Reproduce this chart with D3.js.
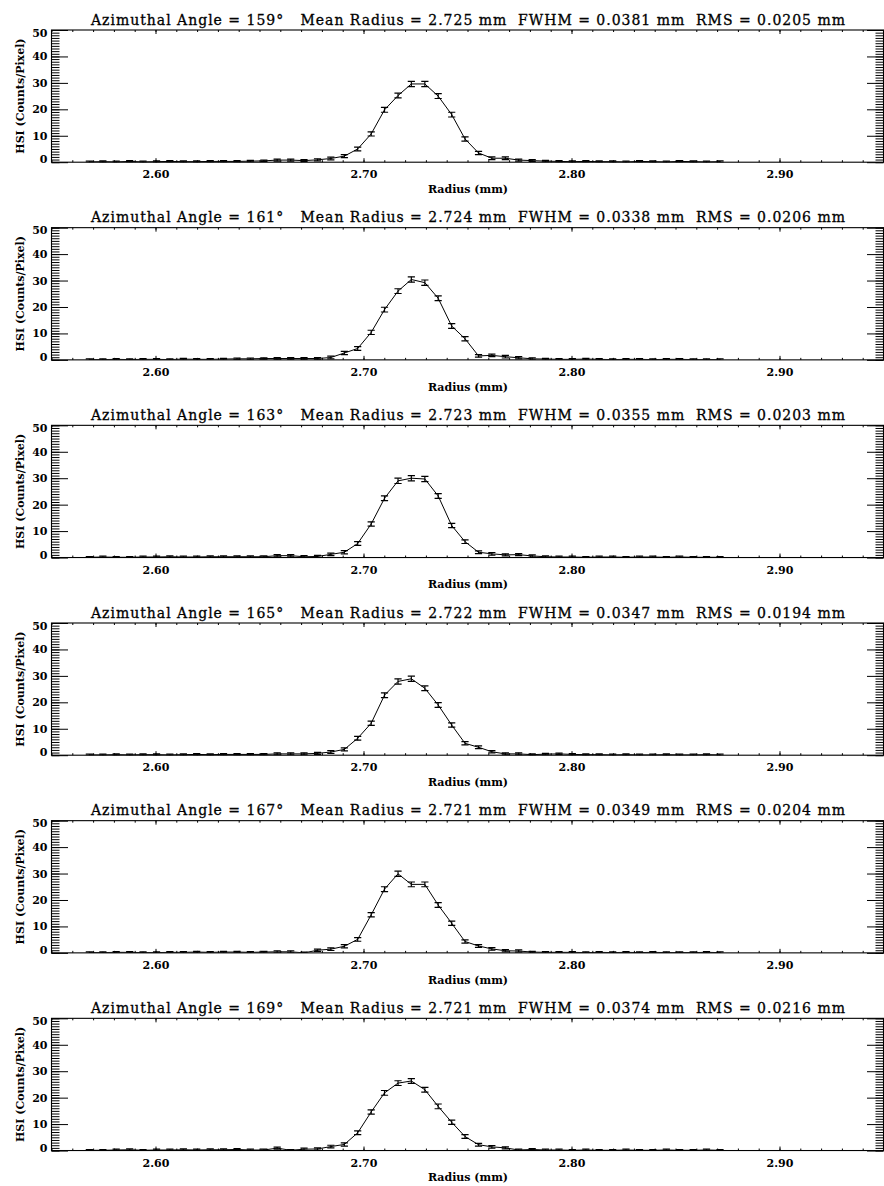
<!DOCTYPE html>
<html><head><meta charset="utf-8">
<script src="https://cdn.jsdelivr.net/npm/d3@7"></script>
<style>
html,body{margin:0;padding:0;background:#fff;}
svg{display:block;}
text{font-family:"DejaVu Serif",serif;fill:#000;}
</style></head><body>
<svg id="chart" width="884" height="1186"></svg>
<script>
// ---- data ----
const radius = [2.5682,2.5747,2.5811,2.5876,2.5940,2.6005,2.6069,2.6134,2.6198,2.6263,2.6327,2.6392,
  2.6456,2.6521,2.6585,2.6650,2.6714,2.6779,2.6843,2.6908,2.6972,2.7037,2.7101,2.7166,
  2.7230,2.7295,2.7359,2.7424,2.7488,2.7553,2.7617,2.7682,2.7746,2.7811,2.7875,2.7940,
  2.8004,2.8069,2.8133,2.8198,2.8262,2.8327,2.8391,2.8456,2.8520,2.8585,2.8649,2.8714];
const angles = [159,161,163,165,167,169];
const meanRadius = ["2.725","2.724","2.723","2.722","2.721","2.721"];
const fwhm = ["0.0381","0.0338","0.0355","0.0347","0.0349","0.0374"];
const rms = ["0.0205","0.0206","0.0203","0.0194","0.0204","0.0216"];

const hsi159 = [0.1,0.2,0.1,0.3,0.1,0.2,0.3,0.2,0.2,0.3,0.3,0.3,
  0.4,0.5,0.8,0.8,0.6,0.9,1.4,2.3,5.0,10.7,19.8,25.2,
  29.6,29.6,25.0,18.0,8.8,3.5,1.5,1.5,0.8,0.6,0.4,0.3,
  0.2,0.3,0.2,0.2,0.1,0.3,0.2,0.1,0.3,0.2,0.1,0.2];
const hsi161 = [0.1,0.1,0.2,0.1,0.2,0.2,0.1,0.3,0.2,0.2,0.3,0.4,
  0.4,0.5,0.5,0.5,0.5,0.5,0.9,2.6,4.3,10.4,19.0,26.0,
  30.4,29.2,23.3,12.8,8.0,1.5,1.7,1.2,0.8,0.4,0.3,0.2,
  0.2,0.3,0.2,0.1,0.2,0.2,0.1,0.2,0.2,0.1,0.1,0.1];
const hsi163 = [0.1,0.2,0.1,0.1,0.2,0.2,0.3,0.2,0.2,0.3,0.3,0.3,
  0.3,0.3,0.7,0.7,0.3,0.4,1.2,2.0,5.3,12.7,22.4,29.0,
  30.0,29.7,23.3,12.1,6.0,2.0,1.4,1.0,1.1,0.6,0.3,0.2,
  0.2,0.1,0.2,0.2,0.1,0.2,0.2,0.1,0.2,0.1,0.1,0.1];
const hsi165 = [0.1,0.1,0.2,0.1,0.2,0.2,0.1,0.2,0.3,0.2,0.3,0.3,
  0.3,0.3,0.5,0.5,0.5,0.7,1.2,2.2,6.4,12.1,22.7,27.9,
  28.9,25.3,19.0,11.4,4.5,3.0,1.3,0.5,0.5,0.2,0.4,0.5,
  0.3,0.2,0.2,0.1,0.2,0.1,0.1,0.2,0.1,0.1,0.2,0.1];
const hsi167 = [0.1,0.1,0.2,0.2,0.1,0.1,0.2,0.2,0.3,0.2,0.3,0.3,
  0.2,0.3,0.4,0.4,0.0,1.0,1.4,2.5,5.1,14.4,24.1,29.9,
  25.9,25.9,18.1,11.2,4.3,2.6,1.5,0.8,0.7,0.3,0.2,0.2,
  0.2,0.1,0.2,0.1,0.2,0.1,0.2,0.1,0.1,0.1,0.2,0.1];
const hsi169 = [0.1,0.1,0.2,0.3,0.1,0.2,0.2,0.3,0.2,0.3,0.3,0.4,
  0.2,0.2,0.9,0.1,0.5,0.6,1.5,2.3,6.7,14.6,21.8,25.5,
  26.3,23.0,16.7,10.7,5.3,2.2,1.4,1.0,0.2,0.4,0.2,0.2,
  0.1,0.2,0.1,0.1,0.2,0.1,0.1,0.2,0.1,0.1,0.2,0.1];

const err159 = [0.3,0.3,0.3,0.3,0.3,0.3,0.3,0.3,0.3,0.3,0.3,0.3,
  0.3,0.3,0.4,0.4,0.4,0.4,0.5,0.6,0.7,0.8,0.9,0.9,
  1.0,1.0,0.9,0.9,0.8,0.6,0.5,0.5,0.4,0.4,0.3,0.3,
  0.3,0.3,0.3,0.3,0.3,0.3,0.3,0.3,0.3,0.3,0.3,0.3];
const err161 = [0.3,0.3,0.3,0.3,0.3,0.3,0.3,0.3,0.3,0.3,0.3,0.3,
  0.3,0.3,0.4,0.4,0.4,0.4,0.5,0.6,0.7,0.8,0.9,0.9,
  1.0,1.0,0.9,0.9,0.8,0.5,0.5,0.5,0.4,0.4,0.3,0.3,
  0.3,0.3,0.3,0.3,0.3,0.3,0.3,0.3,0.3,0.3,0.3,0.3];
const err163 = [0.3,0.3,0.3,0.3,0.3,0.3,0.3,0.3,0.3,0.3,0.3,0.3,
  0.3,0.3,0.4,0.4,0.4,0.4,0.5,0.6,0.7,0.8,0.9,1.0,
  1.0,1.0,0.9,0.8,0.7,0.5,0.5,0.4,0.4,0.4,0.3,0.3,
  0.3,0.3,0.3,0.3,0.3,0.3,0.3,0.3,0.3,0.3,0.3,0.3];
const err165 = [0.3,0.3,0.3,0.3,0.3,0.3,0.3,0.3,0.3,0.3,0.3,0.3,
  0.3,0.3,0.4,0.4,0.4,0.4,0.5,0.6,0.7,0.8,0.9,1.0,
  1.0,0.9,0.9,0.8,0.6,0.5,0.4,0.4,0.4,0.3,0.3,0.3,
  0.3,0.3,0.3,0.3,0.3,0.3,0.3,0.3,0.3,0.3,0.3,0.3];
const err167 = [0.3,0.3,0.3,0.3,0.3,0.3,0.3,0.3,0.3,0.3,0.3,0.3,
  0.3,0.3,0.4,0.4,0.3,0.4,0.5,0.6,0.7,0.8,0.9,1.0,
  0.9,0.9,0.9,0.8,0.6,0.5,0.5,0.4,0.4,0.3,0.3,0.3,
  0.3,0.3,0.3,0.3,0.3,0.3,0.3,0.3,0.3,0.3,0.3,0.3];
const err169 = [0.3,0.3,0.3,0.3,0.3,0.3,0.3,0.3,0.3,0.3,0.3,0.3,
  0.3,0.3,0.4,0.3,0.4,0.4,0.5,0.6,0.7,0.8,0.9,0.9,
  0.9,0.9,0.9,0.8,0.7,0.5,0.5,0.4,0.3,0.3,0.3,0.3,
  0.3,0.3,0.3,0.3,0.3,0.3,0.3,0.3,0.3,0.3,0.3,0.3];

const series = [hsi159, hsi161, hsi163, hsi165, hsi167, hsi169];
const errors = [err159, err161, err163, err165, err167, err169];
const xTickLabels = [2.60, 2.70, 2.80, 2.90];
const yTickLabels = [0, 10, 20, 30, 40, 50];

// ---- layout ----
const W = 884, H = 1186, panelH = H / 6;
const L = 51.5, R = 883.5, T = 30, B = 162.2;
const x = d3.scaleLinear().domain([2.55, 2.95]).range([L, R]);
const y = d3.scaleLinear().domain([0, 50]).range([B, T]);

const svg = d3.select("#chart");
svg.append("rect").attr("width", W).attr("height", H).attr("fill", "#fff");
svg.append("defs").append("clipPath").attr("id", "plotclip")
  .append("rect").attr("x", L).attr("y", T).attr("width", R - L).attr("height", B - T);

const xMinor = x.ticks(40);
const yMinor = y.ticks(50);
const FS = 11;

function styleAxis(g) {
  g.select(".domain").remove();
  g.selectAll(".tick line").attr("stroke", "#000").attr("stroke-width", 1);
  g.selectAll("text").attr("font-family", '"DejaVu Serif", serif')
    .attr("font-weight", "bold").attr("font-size", FS).attr("fill", "#000");
}

series.forEach((vals, i) => {
  const g = svg.append("g").attr("transform", `translate(0,${i * panelH})`);
  const pts = radius.map((r, k) => ({ r, v: vals[k], e: errors[i][k] }));

  // title
  g.append("text")
    .attr("x", 468).attr("y", 24.5)
    .attr("text-anchor", "middle")
    .attr("font-size", 14)
    .attr("stroke", "#000").attr("stroke-width", 0.3)
    .attr("textLength", 754).attr("lengthAdjust", "spacing")
    .attr("xml:space", "preserve").style("white-space", "pre")
    .text(`Azimuthal Angle = ${angles[i]}°   Mean Radius = ${meanRadius[i]} mm  FWHM = ${fwhm[i]} mm  RMS = ${rms[i]} mm`);

  // minor ticks
  g.append("g").attr("transform", `translate(0,${B})`)
    .call(d3.axisBottom(x).tickValues(xMinor).tickSize(-2).tickFormat(""))
    .call(styleAxis);
  g.append("g").attr("transform", `translate(0,${T})`)
    .call(d3.axisTop(x).tickValues(xMinor).tickSize(-2).tickFormat(""))
    .call(styleAxis);
  g.append("g").attr("transform", `translate(${L},0)`)
    .call(d3.axisLeft(y).tickValues(yMinor).tickSize(-8).tickFormat(""))
    .call(styleAxis);
  g.append("g").attr("transform", `translate(${R},0)`)
    .call(d3.axisRight(y).tickValues(yMinor).tickSize(-8).tickFormat(""))
    .call(styleAxis);

  // major ticks + labels
  g.append("g").attr("transform", `translate(0,${B})`)
    .call(d3.axisBottom(x).tickValues(xTickLabels).tickSize(-4).tickPadding(8.3).tickFormat(d3.format(".2f")))
    .call(styleAxis);
  g.append("g").attr("transform", `translate(0,${T})`)
    .call(d3.axisTop(x).tickValues(xTickLabels).tickSize(-4).tickFormat(""))
    .call(styleAxis);
  const ya = g.append("g").attr("transform", `translate(${L},0)`)
    .call(d3.axisLeft(y).tickValues(yTickLabels).tickSize(-16.5).tickPadding(4).tickFormat(d3.format("d")))
    .call(styleAxis);
  ya.selectAll(".tick text").attr("dy", d => d === 0 ? "0.05em" : d === 50 ? "0.55em" : "0.32em");
  g.append("g").attr("transform", `translate(${R},0)`)
    .call(d3.axisRight(y).tickValues(yTickLabels).tickSize(-16.5).tickFormat(""))
    .call(styleAxis);

  // frame
  g.append("rect").attr("x", L).attr("y", T).attr("width", R - L).attr("height", B - T)
    .attr("fill", "none").attr("stroke", "#000").attr("stroke-width", 1.1);

  // axis titles
  g.append("text").attr("x", 468).attr("y", 193).attr("text-anchor", "middle")
    .attr("font-weight", "bold").attr("font-size", FS).text("Radius (mm)");
  g.append("text").attr("transform", `translate(24,${(T + B) / 2}) rotate(-90)`)
    .attr("text-anchor", "middle").attr("font-weight", "bold").attr("font-size", FS)
    .text("HSI (Counts/Pixel)");

  // data
  const dg = g.append("g").attr("clip-path", "url(#plotclip)");
  dg.append("path").datum(pts)
    .attr("fill", "none").attr("stroke", "#000").attr("stroke-width", 1)
    .attr("d", d3.line().x(d => x(d.r)).y(d => y(d.v)));
  const eb = dg.selectAll("g.eb").data(pts).join("g").attr("class", "eb")
    .attr("stroke", "#000").attr("stroke-width", 1.2);
  eb.append("line").attr("x1", d => x(d.r)).attr("x2", d => x(d.r))
    .attr("y1", d => y(d.v - d.e)).attr("y2", d => y(d.v + d.e));
  eb.append("line").attr("x1", d => x(d.r) - 3.6).attr("x2", d => x(d.r) + 3.6)
    .attr("y1", d => y(d.v + d.e)).attr("y2", d => y(d.v + d.e));
  eb.append("line").attr("x1", d => x(d.r) - 3.6).attr("x2", d => x(d.r) + 3.6)
    .attr("y1", d => y(d.v - d.e)).attr("y2", d => y(d.v - d.e));
});
</script>
</body></html>
